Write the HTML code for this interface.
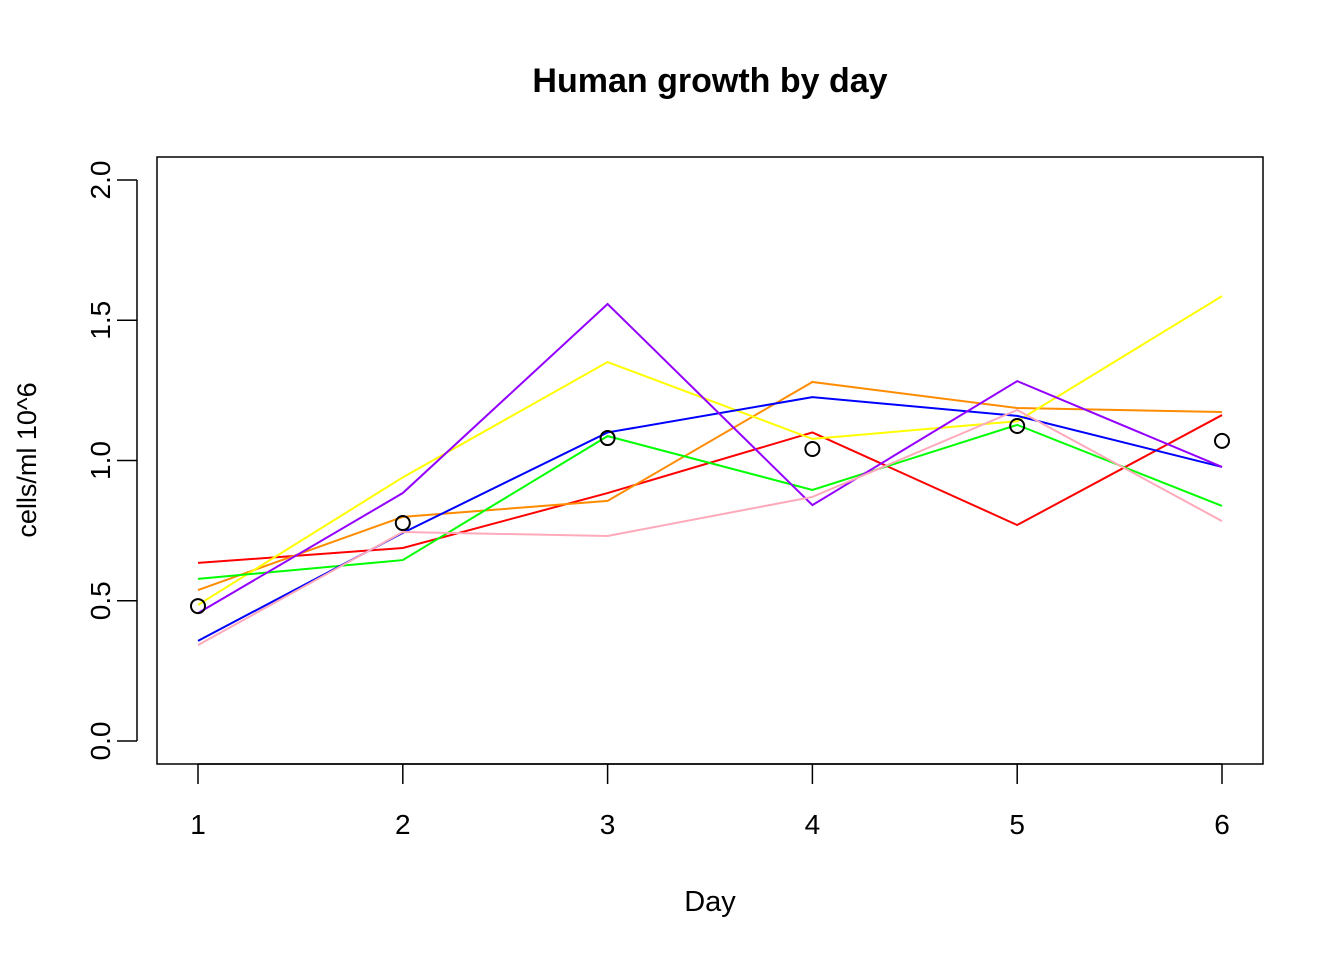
<!DOCTYPE html>
<html><head><meta charset="utf-8"><style>
body{margin:0;background:#fff}
svg{display:block;font-family:"Liberation Sans",Arial,sans-serif}
</style></head><body>
<svg id="chart" width="1344" height="960">
<text x="710" y="92" text-anchor="middle" font-size="34" font-weight="bold">Human growth by day</text>
<rect x="157" y="157" width="1106" height="607" fill="none" stroke="#000" stroke-width="1.5"/>
<text x="710" y="911" text-anchor="middle" font-size="29">Day</text>
<text transform="translate(36,460) rotate(-90)" text-anchor="middle" font-size="27">cells/ml 10^6</text>
<g id="axes"></g><g id="series"></g><g id="points"></g>
</svg>
<script>
const days=[1,2,3,4,5,6];
const yTicks=[0.0,0.5,1.0,1.5,2.0];
const yTickLabels=["0.0","0.5","1.0","1.5","2.0"];
const seriesColors=["#ff0000","#ff8c00","#ffff00","#00ff00","#0000ff","#9400ff","#ffaabb"];
const red=[0.635,0.688,0.884,1.10,0.77,1.162];
const orange=[0.538,0.799,0.856,1.28,1.187,1.173];
const yellow=[0.485,0.94,1.351,1.077,1.14,1.586];
const green=[0.578,0.645,1.087,0.895,1.127,0.838];
const blue=[0.357,0.742,1.10,1.226,1.159,0.977];
const purple=[0.456,0.884,1.558,0.841,1.283,0.977];
const pink=[0.342,0.745,0.731,0.87,1.18,0.784];
const means=[0.481,0.777,1.08,1.041,1.123,1.07];
const seriesNames=["red","orange","yellow","green","blue","purple","pink"];
const allSeries=[red,orange,yellow,green,blue,purple,pink];

const NS="http://www.w3.org/2000/svg";
const xs=d=>198+(d-1)*204.8;
const ys=v=>741-v*280.5;
function mk(t,a,p){const e=document.createElementNS(NS,t);for(const k in a)e.setAttribute(k,a[k]);p.appendChild(e);return e;}
const axes=document.getElementById('axes');
mk('line',{x1:xs(1),x2:xs(6),y1:764,y2:764,stroke:'#000','stroke-width':1.5},axes);
days.forEach(d=>{
 const l=mk('line',{x1:xs(d),x2:xs(d),y1:764,y2:784,stroke:'#000','stroke-width':1.5},axes);
 
 
 const t=mk('text',{x:xs(d),y:834,'text-anchor':'middle','font-size':28},axes);t.textContent=d;
 
 
});
mk('line',{x1:137,x2:137,y1:ys(0),y2:ys(2),stroke:'#000','stroke-width':1.5},axes);
yTicks.forEach((v,i)=>{
 const l=mk('line',{x1:117,x2:137,y1:ys(v),y2:ys(v),stroke:'#000','stroke-width':1.5},axes);
 
 
 const t=mk('text',{'text-anchor':'middle','font-size':28,transform:`translate(110,${ys(v)}) rotate(-90)`},axes);t.textContent=yTickLabels[i];
 
 
});
const sg=document.getElementById('series');
allSeries.forEach((s,i)=>{
 const p=mk('polyline',{points:s.map((v,j)=>xs(days[j])+','+ys(v)).join(' '),fill:'none',stroke:seriesColors[i],'stroke-width':2},sg);
 
 
});
const pg=document.getElementById('points');
means.forEach((v,j)=>{
 const c=mk('circle',{cx:xs(days[j]),cy:ys(v),r:7,fill:'none',stroke:'#000','stroke-width':2},pg);
 
 
});
</script>
</body></html>
